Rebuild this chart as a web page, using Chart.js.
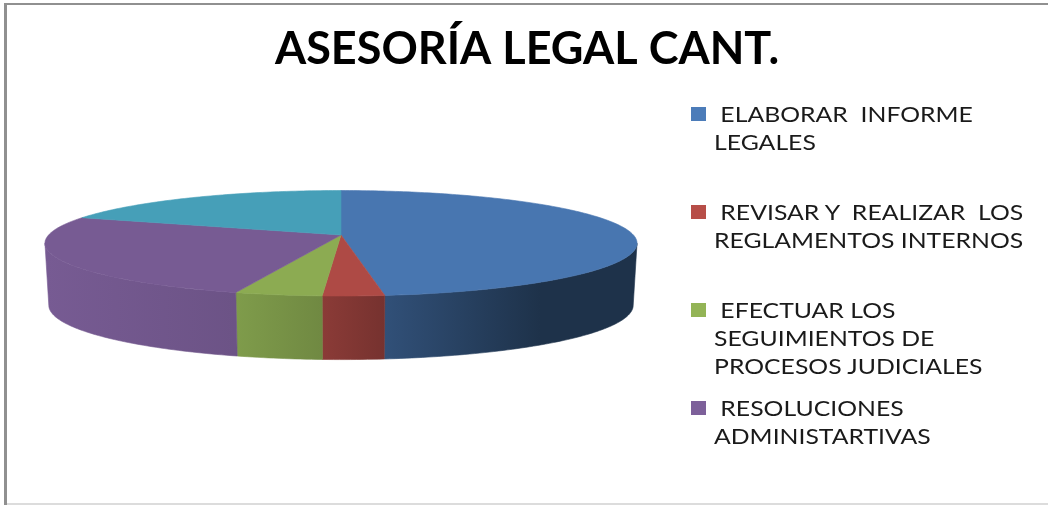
<!DOCTYPE html>
<html>
<head>
<meta charset="utf-8">
<style>
  html, body { margin: 0; padding: 0; background: #fff; overflow: hidden; }
  #frame { position: relative; width: 1048px; height: 505px; overflow: hidden; }
  #chart { position: absolute; left: 0; top: 0; }
  .edge { position: absolute; }
  .legend-box { position: absolute; width: 15px; height: 14px; }
  .legend-line { position: absolute; white-space: pre; font: 21px Lato, sans-serif; color: #1a1a1a; line-height: 28px; transform: scaleX(1.18); transform-origin: left center; }
</style>
<script src="https://cdn.jsdelivr.net/npm/chart.js@4"></script>
</head>
<body>
<div id="frame">
  <canvas id="chart" width="1048" height="505"></canvas>
</div>
<script>
// Datos (la ultima porcion no tiene entrada en la leyenda)
const titulo = "ASESORÍA LEGAL CANT.";
const categorias = [
  "ELABORAR INFORME LEGALES",
  "REVISAR Y REALIZAR LOS REGLAMENTOS INTERNOS",
  "EFECTUAR LOS SEGUIMIENTOS DE PROCESOS JUDICIALES",
  "RESOLUCIONES ADMINISTARTIVAS",
  "",
];
const valores = [49.9, 3, 4.25, 26.85, 20];
const colores = ["#4876b0", "#ae4a45", "#8cab52", "#775b93", "#469fb8"];

const leyendaLineas = [
  [" ELABORAR  INFORME", "LEGALES"],
  [" REVISAR Y  REALIZAR  LOS", "REGLAMENTOS INTERNOS"],
  [" EFECTUAR LOS", "SEGUIMIENTOS DE", "PROCESOS JUDICIALES"],
  [" RESOLUCIONES", "ADMINISTARTIVAS"],
];
const leyendaY = [100, 198, 296, 394];

// Perspectiva del disco: v = -1 fondo, v = 1 frente
const cx = 341, radio = 292.4, k = -0.1564, ya = 14.7, yb = 235;

function proyectar(ang) {
  const u = Math.cos(ang), v = Math.sin(ang), w = 1 + k * v;
  return { x: cx + (radio * u) / w, y: (ya * v + yb) / w };
}

function base(p) {
  return { x: cx + (p.x - cx) * 0.987, y: 305 + (p.y - 243) * 1.03 };
}

function oscurecer(hex, f) {
  const n = parseInt(hex.slice(1), 16);
  const c = [n >> 16, (n >> 8) & 255, n & 255].map((d) => Math.min(255, Math.round(d * f)));
  return `rgb(${c[0]},${c[1]},${c[2]})`;
}

// Degradado horizontal de la pared lateral
const sombra = [
  [45, 1],
  [235, 0.91],
  [322, 0.8],
  [385, 0.68],
  [540, 0.42],
  [640, 0.42],
];

function paredGradiente(ctx, color) {
  const g = ctx.createLinearGradient(45, 0, 640, 0);
  sombra.forEach(([x, f]) => g.addColorStop((x - 45) / 595, oscurecer(color, f)));
  return g;
}

function puntosArco(a0, a1) {
  const pasos = Math.max(2, Math.ceil((a1 - a0) * 60));
  const pts = [];
  for (let i = 0; i <= pasos; i++) pts.push(proyectar(a0 + ((a1 - a0) * i) / pasos));
  return pts;
}

const pastel3d = {
  id: "pastel3d",
  beforeDatasetDraw(chart, args) {
    const ctx = chart.ctx;
    const arcos = chart.getDatasetMeta(args.index).data;
    // zona visible de la pared: del punto mas ancho a la derecha al de la izquierda
    const iniVis = 0.157, finVis = Math.PI - 0.157;
    ctx.save();
    arcos.forEach((arco, i) => {
      const a0 = Math.max(arco.startAngle, iniVis);
      const a1 = Math.min(arco.endAngle, finVis);
      if (a1 <= a0) return;
      const arriba = puntosArco(a0, a1);
      const abajo = arriba.map(base).reverse();
      ctx.beginPath();
      arriba.concat(abajo).forEach((p, j) => (j ? ctx.lineTo(p.x, p.y) : ctx.moveTo(p.x, p.y)));
      ctx.closePath();
      const g = paredGradiente(ctx, colores[i]);
      ctx.fillStyle = g;
      ctx.strokeStyle = g;
      ctx.lineWidth = 0.6;
      ctx.fill();
      ctx.stroke();
    });
    arcos.forEach((arco, i) => {
      const pts = puntosArco(arco.startAngle, arco.endAngle);
      ctx.beginPath();
      ctx.moveTo(cx, yb);
      pts.forEach((p) => ctx.lineTo(p.x, p.y));
      ctx.closePath();
      ctx.fillStyle = colores[i];
      ctx.strokeStyle = colores[i];
      ctx.lineWidth = 0.6;
      ctx.fill();
      ctx.stroke();
    });
    ctx.restore();
    return false;
  },
};

new Chart(document.getElementById("chart"), {
  type: "pie",
  data: {
    labels: categorias,
    datasets: [{ data: valores, backgroundColor: colores, borderWidth: 0 }],
  },
  plugins: [pastel3d],
  options: {
    responsive: false,
    devicePixelRatio: 1,
    animation: false,
    layout: { padding: { left: 6 } },
    plugins: {
      legend: { display: false },
      tooltip: { enabled: false },
      title: {
        display: true,
        text: titulo,
        color: "#000",
        font: { family: "Lato", size: 45, weight: "bold" },
        padding: { top: 22, bottom: 10 },
      },
    },
  },
});

// Leyenda y marco
const marco = document.getElementById("frame");
function caja(clase, css, texto) {
  const d = document.createElement("div");
  d.className = clase;
  d.style.cssText = css;
  if (texto) d.textContent = texto;
  marco.appendChild(d);
}
leyendaLineas.forEach((lineas, i) => {
  caja("legend-box", `left:691px;top:${leyendaY[i] + 7}px;background:${oscurecer(colores[i], 1.05)}`);
  lineas.forEach((t, j) => {
    caja("legend-line", `left:714px;top:${leyendaY[i] + j * 28}px`, t);
  });
});
caja("edge", "left:4px;top:3px;width:3px;height:502px;background:#909090");
caja("edge", "left:4px;top:3px;width:1044px;height:2px;background:#909090");
caja("edge", "left:7px;top:503px;width:1041px;height:2px;background:#dcdcdc");
</script>
</body>
</html>
